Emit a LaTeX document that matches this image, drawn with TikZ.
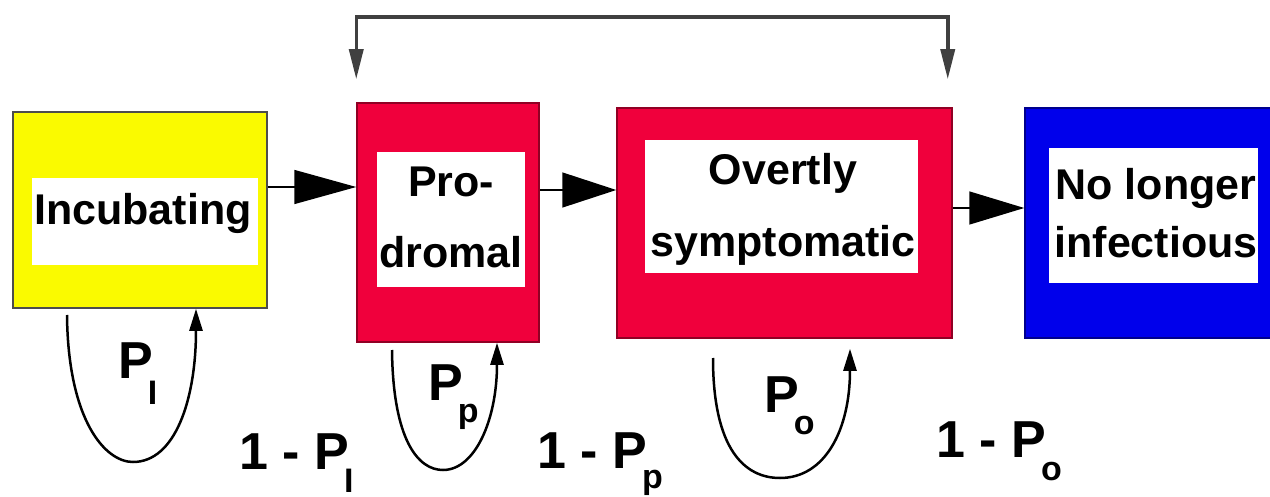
\documentclass[tikz,border=0pt]{standalone}
\usepackage{fontspec}
\setmainfont{Liberation Sans}
\usetikzlibrary{arrows.meta}
\definecolor{yel}{RGB}{250,250,0}
\definecolor{pnk}{RGB}{240,0,60}
\definecolor{blu}{RGB}{0,0,235}
\newcommand\bxfont{\fontsize{43}{43}\selectfont\bfseries}
\newcommand\lbfont{\fontsize{52}{52}\selectfont\bfseries}
\newcommand\Psb[2]{P\kern-5pt\raisebox{-#2pt}{\fontsize{34}{34}\selectfont #1}}
\begin{document}
\begin{tikzpicture}[x=1pt,y=-1pt,
  state/.style={rectangle, inner sep=0pt, line width=1.5pt},
  innerw/.style={rectangle, fill=white, inner sep=0pt},
  txt/.style={inner sep=0pt, anchor=base, font=\bxfont},
  lab/.style={inner sep=0pt, anchor=base west, font=\lbfont},
  flow/.style={line width=1.5pt, -{Triangle[length=62pt,width=34pt]}},
  selfl/.style={line width=2.5pt, -{Triangle[length=22pt,width=13pt]}},
  fb/.style={line width=3.5pt, draw=black!75, {Triangle[length=30pt,width=14pt]}-{Triangle[length=30pt,width=14pt]}}
]
\useasboundingbox (0,0) rectangle (1270,497);
\clip (0,0) rectangle (1270,497);
\fill[white] (0,0) rectangle (1270,497);

% outer boxes
\node[state, fill=yel, draw=black!70, minimum width=254pt, minimum height=196pt] (inc) at (140,210) {};
\node[state, fill=pnk, draw=pnk!60!black, minimum width=182pt, minimum height=239pt] (pro) at (448,222.5) {};
\node[state, fill=pnk, draw=pnk!60!black, minimum width=335pt, minimum height=230pt] (ovt) at (784.5,223) {};
\node[state, fill=blu, draw=blu!60!black, minimum width=270pt, minimum height=230pt] (nli) at (1160,223) {};

% inner white panels
\node[innerw, minimum width=226pt, minimum height=87pt] (w1) at (145,221.5) {};
\node[innerw, minimum width=148pt, minimum height=135pt] (w2) at (451,219.5) {};
\node[innerw, minimum width=273pt, minimum height=133pt] (w3) at (781.5,206.5) {};
\node[innerw, minimum width=209pt, minimum height=135pt] (w4) at (1153.5,215.5) {};

% box texts
\node[txt] (t1) at (143,225) {Incubating};
\node[txt] (t2a) at (451,197) {Pro-};
\node[txt] (t2b) at (451,268) {dromal};
\node[txt] (t3a) at (783,185) {Overtly};
\node[txt] (t3b) at (783,257) {symptomatic};
\node[txt] (t4a) at (1156,200) {No longer};
\node[txt] (t4b) at (1156,258) {infectious};

% flow arrows
\draw[flow] ([yshift=23pt]inc.east) -- ([yshift=35.5pt]pro.west);
\draw[flow, -{Triangle[length=54pt,width=35pt]}] ([yshift=32.5pt]pro.east) -- ([yshift=33pt]ovt.west);
\draw[flow, -{Triangle[length=55pt,width=33pt]}] ([yshift=15pt]ovt.east) -- ([yshift=15pt]nli.west);

% feedback connector on top
\draw[fb] ([yshift=23pt]pro.north west) -- ++(0,-62) -| ([xshift=-5pt,yshift=28pt]ovt.north east);

% self loops
\coordinate (incL) at (67,315);
\coordinate (proL) at (392,350);
\coordinate (ovtL) at (713,358);
\draw[selfl] (incL) .. controls (68,420) and (105,462) .. (133,462) .. controls (175,462) and (196,400) .. ([xshift=56pt]inc.south);
\draw[selfl] (proL) .. controls (393,440) and (418,470) .. (443,470) .. controls (475,470) and (497,420) .. ([xshift=49pt]pro.south);
\draw[selfl] (ovtL) .. controls (713,450) and (745,478) .. (780,478) .. controls (825,478) and (850,430) .. ([xshift=65.5pt,yshift=-10pt]ovt.south);

% probability labels
\node[lab] (pi) at (118,378) {\Psb{I}{26}};
\node[lab] (pp) at (428,400) {\Psb{p}{22}};
\node[lab] (po) at (764,412) {\Psb{o}{22}};
\node[lab] (qi) at (239,469) {1 - \Psb{I}{23}};
\node[lab] (qp) at (537,468) {1 - \Psb{p}{20}};
\node[lab] (qo) at (936,457) {1 - \Psb{o}{23}};
\end{tikzpicture}
\end{document}
